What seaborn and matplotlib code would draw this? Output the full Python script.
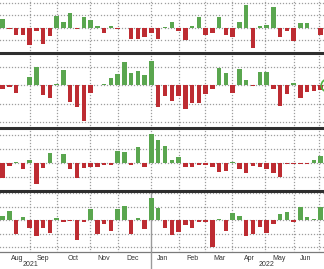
import matplotlib
matplotlib.use("Agg")
import matplotlib.pyplot as plt
import seaborn as sns
import pandas as pd
import numpy as np
from matplotlib.lines import Line2D

sns.set_style("white")
plt.rcParams['font.family'] = ['Liberation Sans', 'DejaVu Sans']

# ---- data (weekly values, four panels) ----
weeks = list(range(48))
panel1 = [9.3, -1, -7.3, -7.3, -17, -3.3, -15.7, -8.3, 12, 6, 15.3, -0.7, 11, 7.7, 2, -4.7,
          1.5, -0.8, -0.5, -10.7, -11, -9, -4.7, -10.7,
          0.5, 6.3, -2.7, -12, 2.3, 11.3, -6.7, -5, 11.3, -6.7, -8.7, 6.3, 23.3, -20, 1.7, 3.3,
          21.3, -8.7, -2.7, -12.7, 4.7, 4.7, -0.5, -6.7]
panel2 = [-4.3, -2.3, -8.3, 0.5, 8.3, 18.3, -10, -13.3, 1, 15, -17.3, -21.7, -35.7, -7.7, 0.3, 1.5,
          7.3, 10.7, 22.7, 12.3, 14, 10, 24, -22.3,
          -11, -16, -11, -24.3, -17.7, -17.7, -8.7, -4.3, 17.3, 12.3, -7.7, 15.7, 4.7, -0.7, 13.3, 13.3,
          -4.3, -21, -8.7, 2, -12.7, -6.7, -6, -5.3]
panel3 = [-15, -3.3, 1.5, -6, 3.3, -20.7, -5, 10, 0.3, 9, -6, -15, -5, -4.3, -4.3, -1.7,
          -1.7, 11.7, 11, -2.3, 16, -4.3, 29, 23.3,
          16.7, 3.3, 6, -4.3, -4, -1.7, -1.7, -4, -9, -8.3, 1.5, -6, -10, -3.3, -4.3, -6,
          -10, -14, -1.3, -1.3, -1.3, -1.3, 3.3, 6.7]
panel4 = [4, 9, -14, 3.3, -8.3, -16, -8.3, -13.3, 2.3, -1.7, -0.7, -20, -1.7, 11, -14, -4.3,
          -10.7, 11, 14, -14.3, 2.3, -9, 22.3, 12.3,
          -7.7, -15, -12.3, -5, -8.3, -2.3, -2.3, -27.3, 0.7, -10.7, 7.3, 4, -15.7, -14, -7.3, -12.7,
          -4.3, 6, 8.3, -2.3, 13.3, 3.3, 1.3, 13.3]
months = ["Aug", "Sep", "Oct", "Nov", "Dec", "Jan", "Feb", "Mar", "Apr", "May", "Jun"]
years = ["2021", "2022"]

# ---- layout ----
GREEN = "#4fb540"
RED = "#d5141c"
GRID = "#9e9e9e"
W, H = 324, 269
fig = plt.figure(figsize=(W / 100, H / 100), dpi=100)
fig.patch.set_facecolor("white")

month_bounds = [4.06, 8.05, 12.92, 17.06, 21.93, 26.07, 29.91, 33.9, 38.77, 43.06, 46.75]
month_label_pos = [2.14, 5.98, 10.41, 15.0, 19.28, 23.7, 27.99, 31.98, 36.41, 40.84, 44.83]
year_label_px = [30, 267]

specs = [
    (panel1, -10, 53, 28, 12.5),
    (panel2, 53, 128, 85, 18.5),
    (panel3, 128, 191, 163, 14),
    (panel4, 191, 252, 220, 13.5),
]

axes = []
for i, (vals, top, bot, zero, step) in enumerate(specs):
    ax = fig.add_axes([0, 1 - bot / H, 1, (bot - top) / H])
    df = pd.DataFrame({"week": weeks, "value": vals})
    df["sign"] = ["up" if v >= 0 else "down" for v in vals]
    sns.barplot(data=df, x="week", y="value", hue="sign",
                palette={"up": GREEN, "down": RED}, dodge=False,
                width=0.66, legend=False, ax=ax, linewidth=0, zorder=3)
    lo, hi = -(bot - zero), zero - top
    ax.set_xlim(-0.37, 47.49)
    ax.set_ylim(lo, hi)
    # dotted grid drawn as small square dots
    xs_dense = np.arange(-0.37, 47.49, 0.45)
    for yv in np.arange(np.ceil(lo / step) * step, hi, step):
        ax.plot(xs_dense, np.full(len(xs_dense), yv), linestyle="none", marker="s",
                markersize=0.9, markeredgewidth=0, color=GRID, zorder=2)
    ys_dense = np.arange(lo, hi, (hi - lo) / ((bot - top) / 3.0))
    for xv in month_bounds:
        if i == 3 and xv == month_bounds[4]:
            continue
        ax.plot(np.full(len(ys_dense), xv), ys_dense, linestyle="none", marker="s",
                markersize=0.9, markeredgewidth=0, color=GRID, zorder=2)
    ax.set_xticks(month_bounds)
    ax.set_xticklabels([])
    ax.set_yticks([])
    ax.set_xlabel("")
    ax.set_ylabel("")
    for s in ["left", "right", "bottom"]:
        ax.spines[s].set_visible(False)
    if i == 0:
        ax.spines["top"].set_visible(False)
    else:
        ax.spines["top"].set_color("#2e2e2e")
        ax.spines["top"].set_linewidth(2.2)
    ax.tick_params(axis="both", length=0)
    axes.append(ax)

# last-value marker on panel 2
axes[1].plot([47.9], [0], marker="o", markersize=9, markerfacecolor="none",
             markeredgecolor=GREEN, markeredgewidth=1.2, clip_on=False, zorder=5)

ax4 = axes[3]
ax4.spines["bottom"].set_visible(True)
ax4.spines["bottom"].set_color("#7a7a7a")
ax4.spines["bottom"].set_linewidth(0.9)
ax4.tick_params(axis="x", which="major", length=3, width=0.8, color="#7a7a7a", direction="out")
ax4.set_xticks(month_label_pos, minor=True)
ax4.set_xticklabels(months, minor=True, fontsize=5, color="#333333")
ax4.tick_params(axis="x", which="minor", length=0, pad=2)
ax4.axvline(month_bounds[4], color="#9a9a9a", linewidth=1.0, zorder=1)
# extend year separator below axis
x_sep = ax4.transData.transform((month_bounds[4], 0))[0] / W
fig.add_artist(Line2D([x_sep, x_sep], [0, 1 - 252 / H], color="#9a9a9a", linewidth=1.0))

for txt, px in zip(years, year_label_px):
    fig.text(px / W, 1 - 265 / H, txt, fontsize=5, color="#333333", ha="center", va="center")

fig.savefig("out.png", dpi=100, facecolor="white")
